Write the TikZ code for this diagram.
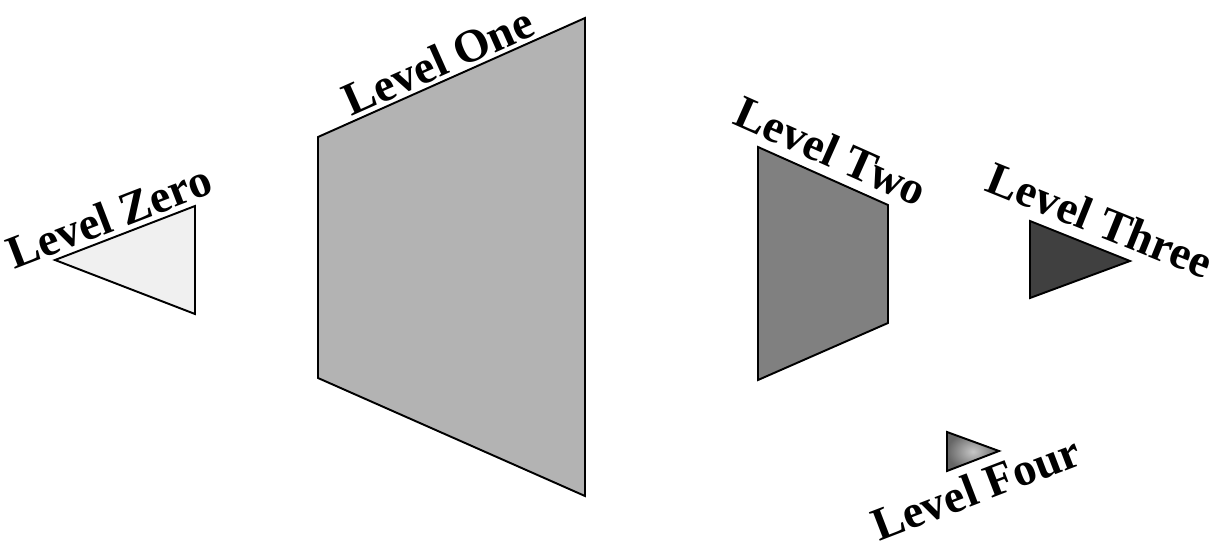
\documentclass[tikz,border=0pt]{standalone}
\usepackage{fontspec}
\setmainfont{Liberation Serif}
\usetikzlibrary{positioning}
\definecolor{zerofill}{RGB}{240,240,240}
\definecolor{onefill}{RGB}{179,179,179}
\definecolor{twofill}{RGB}{128,128,128}
\definecolor{threefill}{RGB}{64,64,64}

\begin{document}
\begin{tikzpicture}[x=0.02cm, y=-0.02cm,
    level/.style={draw=black, line width=1.1pt, line join=miter},
    lbl/.style={font=\fontsize{26.5}{30}\selectfont\bfseries, inner sep=0pt}]
  \useasboundingbox (0,0) rectangle (1220,548);
  % Level Zero
  \coordinate (z1) at (55,260);
  \coordinate (z2) at (195,206);
  \coordinate (z3) at (195,314);
  \draw[level, fill=zerofill] (z1) -- (z2) -- (z3) -- cycle;
  \node[lbl, rotate=21] (zero) at (109,216) {Level Zero};
  % Level One
  \coordinate (o1) at (318,137);
  \coordinate (o2) at (585,18);
  \coordinate (o3) at (585,496);
  \coordinate (o4) at (318,378);
  \draw[level, fill=onefill] (o1) -- (o2) -- (o3) -- (o4) -- cycle;
  \node[lbl, rotate=24] (one) at (438,61) {Level One};
  % Level Two
  \coordinate (t1) at (758,147);
  \coordinate (t2) at (888,205);
  \coordinate (t3) at (888,323);
  \coordinate (t4) at (758,380);
  \draw[level, fill=twofill] (t1) -- (t2) -- (t3) -- (t4) -- cycle;
  \node[lbl, rotate=-24] (two) at (831,151) {Level Two};
  % Level Three
  \coordinate (h1) at (1030,221);
  \coordinate (h2) at (1130,261);
  \coordinate (h3) at (1030,298);
  \draw[level, fill=threefill] (h1) -- (h2) -- (h3) -- cycle;
  \node[lbl, rotate=-22] (three) at (1100,220) {Level Three};
  % Level Four
  \coordinate (f1) at (947,432);
  \coordinate (f2) at (999,451);
  \coordinate (f3) at (947,471);
  \draw[level, inner color=black!22, outer color=black!60] (f1) -- (f2) -- (f3) -- cycle;
  \node[lbl, rotate=21] (four) at (976,488) {Level Four};
\end{tikzpicture}
\end{document}
